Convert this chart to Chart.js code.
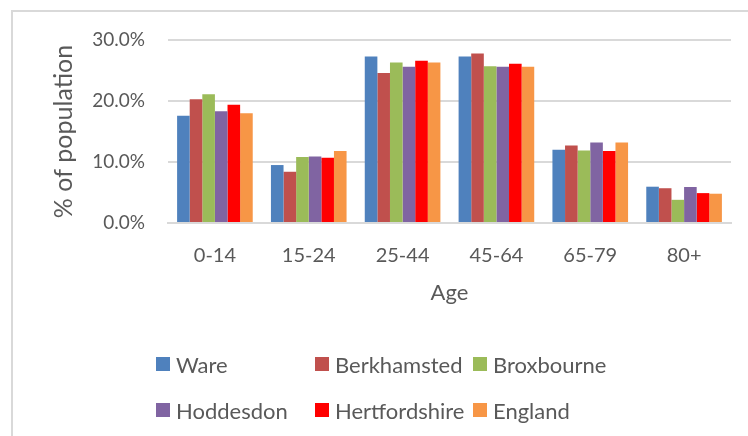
<!DOCTYPE html>
<html>
<head>
<meta charset="utf-8">
<script src="https://cdn.jsdelivr.net/npm/chart.js@4"></script>
<style>
  body { margin: 0; background: #fff; }
  #wrap { position: relative; width: 748px; height: 436px; overflow: hidden; }
  #frame { position: absolute; left: 11px; top: 10px; width: 800px; height: 500px;
           border-left: 2px solid #d9d9d9; border-top: 2px solid #d9d9d9; }
  #legend { position: absolute; left: 156px; top: 341px; display: grid;
            grid-template-columns: 159px 158px auto; grid-auto-rows: 46px;
            font-family: Lato, sans-serif; font-size: 22px; color: #595959; }
  #legend div { display: flex; align-items: center; }
  #legend span.box { width: 14px; height: 14px; margin-right: 6px; display: inline-block; }
</style>
</head>
<body>
<div id="wrap">
  <div id="frame"></div>
  <canvas id="chart" width="748" height="436"></canvas>
  <div id="legend"></div>
</div>
<script>
const categories = ["0-14", "15-24", "25-44", "45-64", "65-79", "80+"];
const seriesNames = ["Ware", "Berkhamsted", "Broxbourne", "Hoddesdon", "Hertfordshire", "England"];
const seriesColors = ["#4f81bd", "#c0504d", "#9bbb59", "#8064a2", "#ff0000", "#f79646"];

// % of population per age band
const ware = [17.6, 9.5, 27.3, 27.3, 12.0, 5.95];
const berkhamsted = [20.3, 8.4, 24.6, 27.8, 12.7, 5.7];
const broxbourne = [21.1, 10.8, 26.3, 25.7, 11.9, 3.8];
const hoddesdon = [18.3, 10.9, 25.6, 25.6, 13.2, 5.9];
const hertfordshire = [19.4, 10.7, 26.6, 26.1, 11.8, 4.9];
const england = [18.0, 11.8, 26.3, 25.6, 13.2, 4.8];

const yTicks = [0, 10, 20, 30];

const seriesValues = [ware, berkhamsted, broxbourne, hoddesdon, hertfordshire, england];
const grey = "#595959";
const font = "Lato, sans-serif";

const datasets = seriesNames.map((name, i) => ({
  label: name,
  data: seriesValues[i],
  backgroundColor: seriesColors[i],
  categoryPercentage: 0.806,
  barPercentage: 1,
}));

new Chart(document.getElementById("chart"), {
  type: "bar",
  data: { labels: categories, datasets },
  options: {
    responsive: false,
    animation: false,
    layout: { padding: { left: 45, top: 40, right: 17, bottom: 126 } },
    plugins: { legend: { display: false }, tooltip: { enabled: false } },
    scales: {
      x: {
        grid: { display: false, drawTicks: false },
        border: { color: "#d9d9d9", width: 2 },
        ticks: { color: grey, font: { family: font, size: 20 }, padding: 21 },
        title: { display: true, text: "Age", color: grey, font: { family: font, size: 22 } },
        afterFit: (s) => { s.height = 87; },
      },
      y: {
        min: yTicks[0],
        max: yTicks[yTicks.length - 1],
        afterBuildTicks: (s) => { s.ticks = yTicks.map((v) => ({ value: v })); },
        grid: { color: "#d9d9d9", lineWidth: 2, drawTicks: false },
        border: { display: false },
        ticks: { color: grey, font: { family: font, size: 19 }, padding: 23,
                 callback: (v) => v.toFixed(1) + "%" },
        title: { display: true, text: "% of population", color: grey, font: { family: font, size: 25 } },
        afterFit: (s) => { s.width = 123; },
      },
    },
  },
});

// legend in three columns like the original
const legend = document.getElementById("legend");
seriesNames.forEach((name, i) => {
  const item = document.createElement("div");
  item.innerHTML = `<span class="box" style="background:${seriesColors[i]}"></span>${name}`;
  legend.appendChild(item);
});
</script>
</body>
</html>
